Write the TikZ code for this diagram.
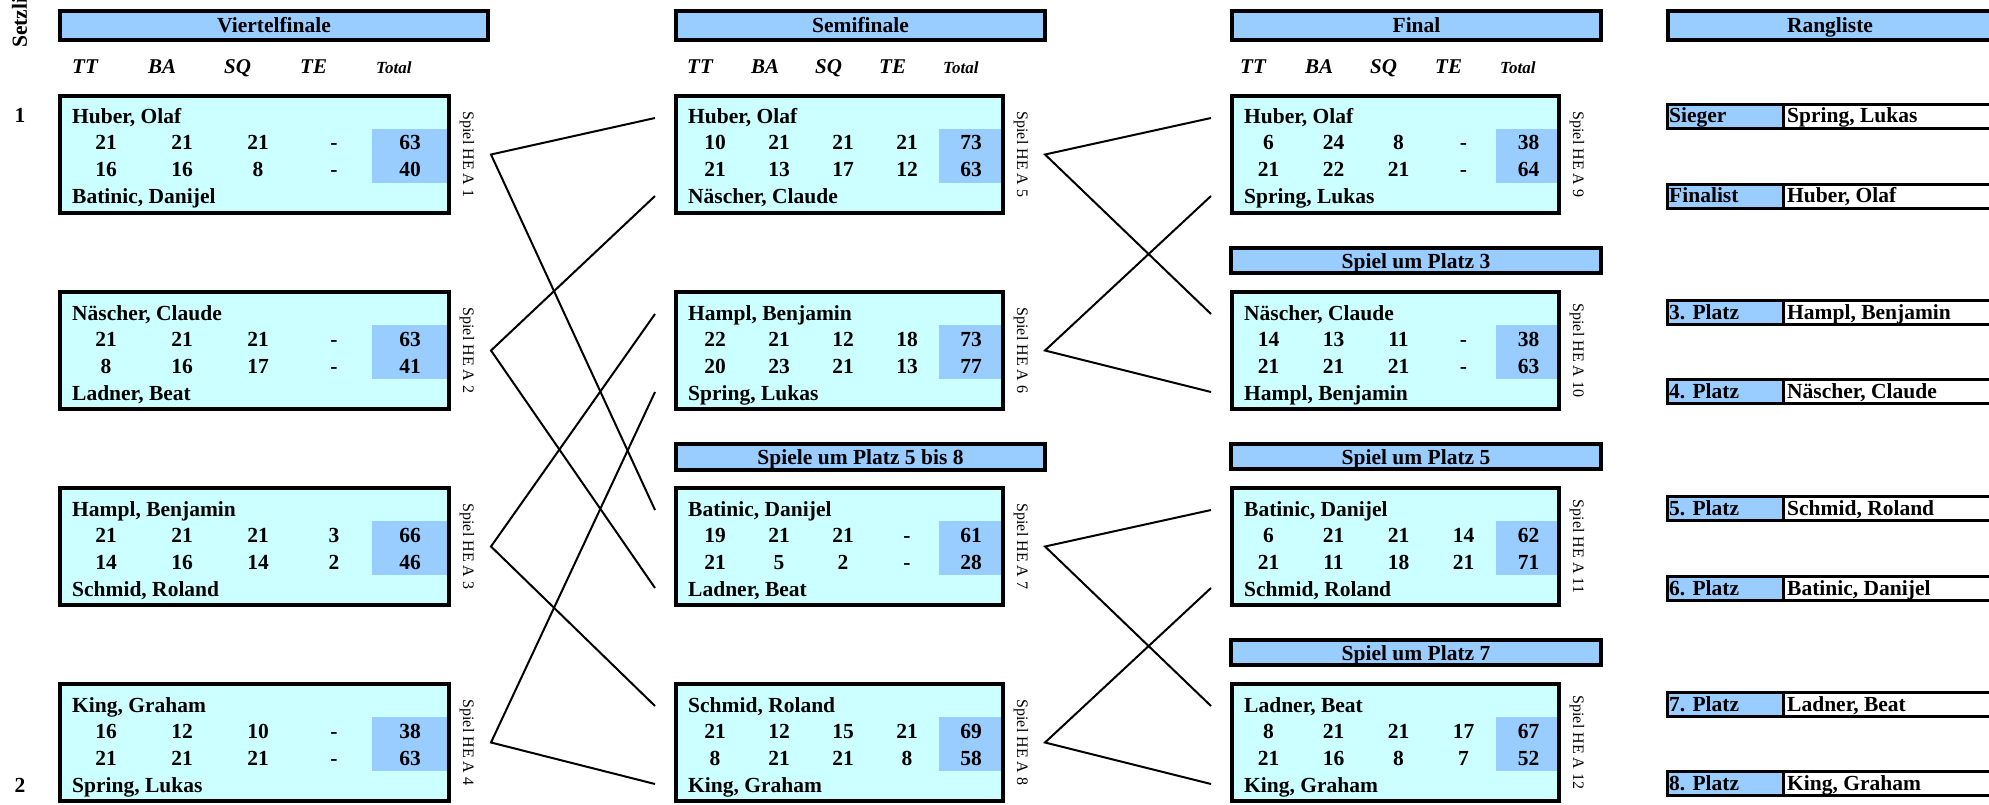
\documentclass[tikz,border=0pt]{standalone}
\usepackage{fontspec}
\setmainfont{Liberation Serif}
\definecolor{hblue}{HTML}{99CCFF}
\definecolor{bcyan}{HTML}{CCFFFF}
\newcommand\bigf{\bfseries\fontsize{21.5}{24}\selectfont}
\tikzset{
 mbox/.style={draw, line width=4pt, fill=bcyan, minimum height=117pt, inner sep=0pt},
 hdr/.style={draw, line width=4pt, fill=hblue, inner sep=0pt, text height=15pt, text depth=0pt, font=\bigf},
 nm/.style={anchor=base west, inner sep=0pt, font=\bigf},
 sc/.style={anchor=base, inner sep=0pt, font=\bigf},
 colh/.style={anchor=base west, inner sep=0pt, font=\bfseries\itshape\fontsize{21}{24}\selectfont},
 colht/.style={anchor=base west, inner sep=0pt, font=\bfseries\itshape\fontsize{17}{20}\selectfont},
 spiel/.style={rotate=-90, inner sep=0pt, font=\fontsize{16}{18}\selectfont},
 conn/.style={line width=2pt},
 rlab/.style={anchor=base west, inner sep=0pt, font=\bigf},
 rline/.style={line width=3pt},
}
\newcommand\setcol[4]{\def\colL{#1}\def\colW{#2}\def\colC{#3}\def\colCW{#4}}
\newcommand\colheads[1]{%
 \foreach \t [count=\i] in {TT,BA,SQ,TE} {\node[colh] (#1-h\i) at ({\colC+(\i-1)*\colCW+4},74) {\t};}
 \node[colht] (#1-h5) at ({\colC+4*\colCW+4},74) {Total};
}
% id, top, name1, scores1, scores2, name2, spiel number
\newcommand\matchbx[7]{%
 \pgfmathsetmacro\bx{\colL+\colW/2}
 \pgfmathsetmacro\by{#2+60.5}
 \pgfmathsetmacro\bw{\colW-4}
 \pgfmathsetmacro\sx{\colC+4*\colCW}
 \pgfmathsetmacro\sxr{\colL+\colW-4}
 \node[mbox, minimum width=\bw pt] (#1) at (\bx,\by) {};
 \fill[hblue] (\sx,{#2+35}) rectangle (\sxr,{#2+89});
 \node[nm] (#1-t) at ({\colL+14},{#2+30}) {#3};
 \node[nm] (#1-b) at ({\colL+14},{#2+110}) {#6};
 \foreach \v [count=\i] in {#4} {\node[sc] (#1-a\i) at ({\colC+(\i-0.5)*\colCW},{#2+56}) {\v};}
 \foreach \v [count=\i] in {#5} {\node[sc] (#1-c\i) at ({\colC+(\i-0.5)*\colCW},{#2+83}) {\v};}
 \node[spiel] (#1-s) at ({\colL+\colW+16},\by) {Spiel HE A #7};
 \coordinate (#1-in1) at ({\colL-19},{#2+24});
 \coordinate (#1-in2) at ({\colL-19},{#2+102});
 \coordinate (#1-out) at ({\colL+\colW+40},\by);
}
\newcommand\rrow[4]{%
 \fill[hblue] (1666,#2) rectangle (1783,{#2+27});
 \draw[rline] (1666,{#2+1.5}) -- (1995,{#2+1.5});
 \draw[rline] (1666,{#2+25.5}) -- (1995,{#2+25.5});
 \draw[rline] (1667.5,#2) -- (1667.5,{#2+27});
 \draw[rline] (1783,#2) -- (1783,{#2+27});
 \node[rlab] (#1-l) at (1669,{#2+20}) {#3};
 \node[rlab] (#1-n) at (1787,{#2+20}) {#4};
}
\begin{document}
\begin{tikzpicture}[x=1pt,y=-1pt]
\useasboundingbox (0,0) rectangle (1989,805);
\begin{scope}
\clip (0,0) rectangle (1989,805);
% Setzliste
\node[rotate=90, anchor=base west, inner sep=0pt, font=\bigf] (setz) at (27,48) {Setzliste};
\node[sc] (seed1) at (20,123) {1};
\node[sc] (seed2) at (20,792) {2};
% headers
\node[hdr, minimum width=428pt, minimum height=29pt] (hqf) at (274,25.5) {Viertelfinale};
\node[hdr, minimum width=369pt, minimum height=29pt] (hsf) at (860.5,25.5) {Semifinale};
\node[hdr, minimum width=369pt, minimum height=29pt] (hf) at (1416.5,25.5) {Final};
\node[hdr, minimum width=324pt, minimum height=29pt] (hrl) at (1830,25.5) {Rangliste};
\node[hdr, minimum width=369pt, minimum height=26pt] (hs58) at (860.5,457) {Spiele um Platz 5 bis 8};
\node[hdr, minimum width=370pt, minimum height=25pt] (hp3) at (1416,260.5) {Spiel um Platz 3};
\node[hdr, minimum width=370pt, minimum height=25pt] (hp5) at (1416,456.5) {Spiel um Platz 5};
\node[hdr, minimum width=370pt, minimum height=25pt] (hp7) at (1416,652.5) {Spiel um Platz 7};
% Viertelfinale
\setcol{58}{393}{68}{76}
\colheads{qfh}
\matchbx{qf1}{94}{Huber, Olaf}{21,21,21,-,63}{16,16,8,-,40}{Batinic, Danijel}{1}
\matchbx{qf2}{290}{Näscher, Claude}{21,21,21,-,63}{8,16,17,-,41}{Ladner, Beat}{2}
\matchbx{qf3}{486}{Hampl, Benjamin}{21,21,21,3,66}{14,16,14,2,46}{Schmid, Roland}{3}
\matchbx{qf4}{682}{King, Graham}{16,12,10,-,38}{21,21,21,-,63}{Spring, Lukas}{4}
% Semifinale
\setcol{674}{331}{683}{64}
\colheads{sfh}
\matchbx{sf1}{94}{Huber, Olaf}{10,21,21,21,73}{21,13,17,12,63}{Näscher, Claude}{5}
\matchbx{sf2}{290}{Hampl, Benjamin}{22,21,12,18,73}{20,23,21,13,77}{Spring, Lukas}{6}
\matchbx{sf3}{486}{Batinic, Danijel}{19,21,21,-,61}{21,5,2,-,28}{Ladner, Beat}{7}
\matchbx{sf4}{682}{Schmid, Roland}{21,12,15,21,69}{8,21,21,8,58}{King, Graham}{8}
% Final
\setcol{1230}{331}{1236}{65}
\colheads{fh}
\matchbx{f1}{94}{Huber, Olaf}{6,24,8,-,38}{21,22,21,-,64}{Spring, Lukas}{9}
\matchbx{f2}{290}{Näscher, Claude}{14,13,11,-,38}{21,21,21,-,63}{Hampl, Benjamin}{10}
\matchbx{f3}{486}{Batinic, Danijel}{6,21,21,14,62}{21,11,18,21,71}{Schmid, Roland}{11}
\matchbx{f4}{682}{Ladner, Beat}{8,21,21,17,67}{21,16,8,7,52}{King, Graham}{12}
% connectors
\draw[conn] (sf1-in1) -- (qf1-out) -- (sf3-in1);
\draw[conn] (sf1-in2) -- (qf2-out) -- (sf3-in2);
\draw[conn] (sf2-in1) -- (qf3-out) -- (sf4-in1);
\draw[conn] (sf2-in2) -- (qf4-out) -- (sf4-in2);
\draw[conn] (f1-in1) -- (sf1-out) -- (f2-in1);
\draw[conn] (f1-in2) -- (sf2-out) -- (f2-in2);
\draw[conn] (f3-in1) -- (sf3-out) -- (f4-in1);
\draw[conn] (f3-in2) -- (sf4-out) -- (f4-in2);
% Rangliste
\rrow{r1}{103}{Sieger}{Spring, Lukas}
\rrow{r2}{183}{Finalist}{Huber, Olaf}
\rrow{r3}{299}{3. Platz}{Hampl, Benjamin}
\rrow{r4}{378}{4. Platz}{Näscher, Claude}
\rrow{r5}{495}{5. Platz}{Schmid, Roland}
\rrow{r6}{575}{6. Platz}{Batinic, Danijel}
\rrow{r7}{691}{7. Platz}{Ladner, Beat}
\rrow{r8}{770}{8. Platz}{King, Graham}
\end{scope}
\end{tikzpicture}
\end{document}
